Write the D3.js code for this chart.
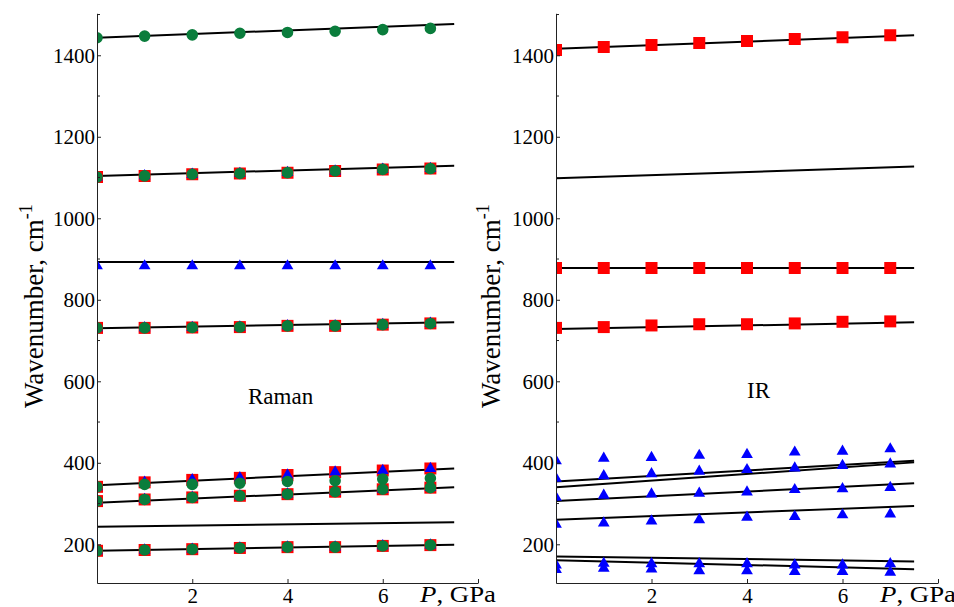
<!DOCTYPE html>
<html>
<head>
<meta charset="utf-8">
<script src="https://d3js.org/d3.v7.min.js"></script>
<style>
  body { margin: 0; background: #fff; }
</style>
</head>
<body>
<script>
var w = 954;
var h = 607;
var serif = "'Liberation Serif', 'Times New Roman', 'DejaVu Serif', serif";

// pressure points (GPa) and range of the fitted curves
var pressure = [0, 1, 2, 3, 4, 5, 6, 7];
var fitRange = [0, 7.5];
var yTicks = [200, 400, 600, 800, 1000, 1200, 1400];
var yMinorTicks = [300, 500, 700, 900, 1100, 1300, 1500];
var xTicks = [2, 4, 6, 8];

// Raman: fitted lines, [value at P=0, value at P=7.5]
var ramanFits = [[1443, 1477], [1104, 1129], [893, 893], [730, 745],
                 [345, 386], [302, 340], [243, 254], [184, 199]];
var ramanSquares = [
  [1101, 1104, 1108, 1110, 1112, 1116, 1120, 1122],
  [731, 731, 732, 733, 736, 736, 739, 742],
  [341, 352, 358, 363, 370, 377, 381, 386],
  [306, 310, 315, 319, 323, 329, 335, 339],
  [184, 186, 188, 191, 193, 193, 196, 198]
];
var ramanTriangles = [
  [1101, 1104, 1108, 1110, 1112, 1116, 1120, 1122],
  [883, 883, 883, 883, 883, 883, 883, 883],
  [731, 731, 732, 733, 736, 736, 739, 742],
  [341, 352, 358, 363, 370, 377, 381, 386],
  [306, 310, 315, 319, 323, 329, 335, 339],
  [184, 186, 188, 191, 193, 193, 196, 198]
];
var ramanCircles = [
  [1443, 1447, 1450, 1454, 1456, 1459, 1463, 1466],
  [1101, 1104, 1108, 1110, 1112, 1116, 1120, 1122],
  [731, 731, 732, 733, 736, 736, 739, 742],
  [341, 347, 347, 350, 354, 356, 360, 362],
  [306, 310, 315, 319, 323, 329, 335, 339],
  [184, 186, 188, 191, 193, 193, 196, 198]
];

// IR
var irFits = [[1416, 1449], [1098, 1127], [878, 878], [728, 745],
              [354, 405], [340, 401], [306, 350], [260, 294], [170, 158], [161, 139]];
var irSquares = [
  [1413, 1420, 1425, 1430, 1435, 1440, 1444, 1449],
  [878, 878, 878, 878, 878, 878, 878, 878],
  [731, 733, 737, 740, 740, 742, 746, 747]
];
var irTriangles = [
  [405, 411, 413, 418, 420, 426, 428, 434],
  [362, 368, 373, 379, 383, 387, 393, 397],
  [315, 320, 323, 325, 328, 334, 336, 339],
  [249, 252, 257, 260, 266, 268, 272, 274],
  [149, 153, 152, 152, 152, 149, 149, 152],
  [138, 141, 139, 135, 135, 133, 133, 131]
];
var irCircles = [];

var svg = d3.select("body")
            .append("svg")
              .attr("width", w)
              .attr("height", h)
              .attr("font-family", serif);

var y = d3.scaleLinear()
  .domain([105, 1503])
  .range([583, 13.3]);

function drawPanel(id, x0, x1, name, nameX, nameY, titleX, fits, squares, triangles, circles) {
  var x = d3.scaleLinear().domain([0, 8]).range([x0, x1]);
  var g = svg.append("g");

  //clip so the markers at P=0 are cut by the axis
  svg.append("clipPath").attr("id", id)
    .append("rect")
      .attr("x", x0).attr("y", y.range()[1])
      .attr("width", x1 - x0).attr("height", y.range()[0] - y.range()[1]);

  var plot = g.append("g").attr("clip-path", "url(#" + id + ")");

  var line = d3.line()
    .x(function(d) { return x(d[0]); })
    .y(function(d) { return y(d[1]); });

  plot.selectAll("path.fit")
    .data(fits)
    .enter()
    .append("path")
      .attr("class", "fit")
      .attr("d", function(f) { return line([[fitRange[0], f[0]], [fitRange[1], f[1]]]); })
      .attr("fill", "none")
      .attr("stroke", "#000")
      .attr("stroke-width", 2);

  function markers(rows, type, size, color) {
    var pts = [];
    rows.forEach(function(row) {
      row.forEach(function(v, i) { pts.push([pressure[i], v]); });
    });
    plot.append("g").selectAll("path")
      .data(pts)
      .enter()
      .append("path")
        .attr("transform", function(d) { return "translate(" + x(d[0]) + "," + y(d[1]) + ")"; })
        .attr("d", d3.symbol().type(type).size(size))
        .attr("fill", color);
  }
  markers(squares, d3.symbolSquare, 144, "#ff0000");
  markers(triangles, d3.symbolTriangle, 60, "#0000ff");
  markers(circles, d3.symbolCircle, 105, "#0a7d3c");

  //axes, ticks pointing inward
  var yAxis = g.append("g")
    .attr("transform", "translate(" + x0 + ",0)")
    .call(d3.axisLeft(y).tickValues(yTicks).tickFormat(d3.format("d"))
      .tickSizeInner(-4).tickSizeOuter(0).tickPadding(2));
  yAxis.attr("font-family", serif);
  yAxis.selectAll("text").attr("font-size", 21);
  yAxis.selectAll(".minor")
    .data(yMinorTicks)
    .enter()
    .append("line")
      .attr("class", "minor")
      .attr("x1", 0).attr("x2", 3)
      .attr("y1", function(d) { return y(d); })
      .attr("y2", function(d) { return y(d); })
      .attr("stroke", "#222");

  var xAxis = g.append("g")
    .attr("transform", "translate(0," + y.range()[0] + ")")
    .call(d3.axisBottom(x).tickValues(xTicks).tickSizeInner(-4).tickSizeOuter(0).tickPadding(5)
      .tickFormat(function(d) { return d == 8 ? "" : d; }));
  xAxis.attr("font-family", serif);
  xAxis.selectAll("text").attr("font-size", 21);
  g.selectAll(".domain, .tick line").attr("stroke", "#222");

  var xl = g.append("text")
    .attr("x", x1 - 58)
    .attr("y", 602)
    .attr("font-size", 23)
    .attr("textLength", 76)
    .attr("lengthAdjust", "spacingAndGlyphs");
  xl.append("tspan").attr("font-style", "italic").text("P");
  xl.append("tspan").text(", GPa");

  var yl = g.append("text")
    .attr("transform", "translate(" + titleX + ",408) rotate(-90)")
    .attr("font-size", 27);
  yl.append("tspan").text("Wavenumber, cm");
  yl.append("tspan").attr("font-size", 18).attr("dy", -11).text("-1");

  g.append("text")
    .attr("x", nameX)
    .attr("y", nameY)
    .attr("font-size", 23)
    .text(name);
}

drawPanel("clipRaman", 97, 478, "Raman", 248, 404, 43, ramanFits, ramanSquares, ramanTriangles, ramanCircles);
drawPanel("clipIR", 556, 938, "IR", 747, 398, 500, irFits, irSquares, irTriangles, irCircles);
</script>
</body>
</html>
